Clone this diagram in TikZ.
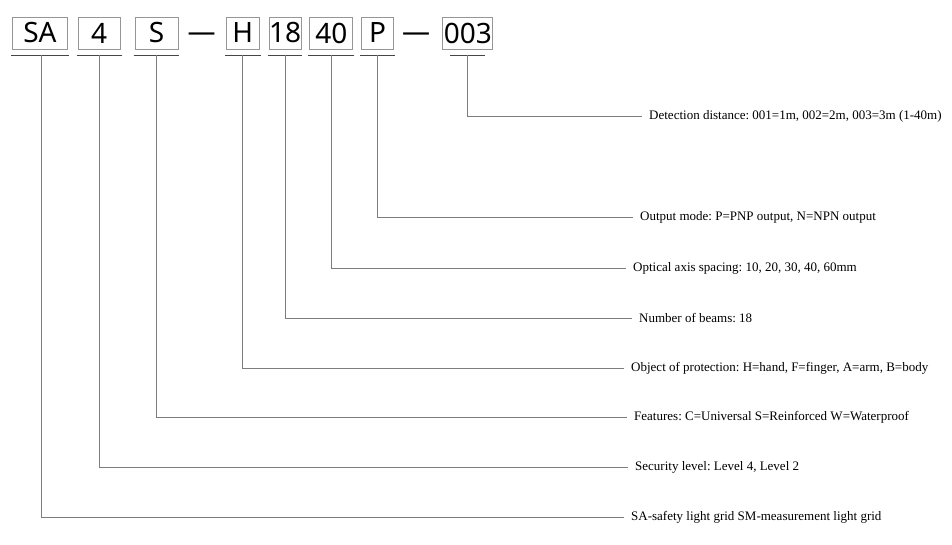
\documentclass[tikz,border=0pt]{standalone}
\usepackage{fontspec}
\setmainfont{Liberation Serif}
\newfontfamily\codefont{Noto Sans}
\usepackage{tikz}
\usetikzlibrary{positioning}
\usepackage{xcolor}
\definecolor{boxgray}{RGB}{150,150,150}
\definecolor{linegray}{RGB}{125,125,125}
\definecolor{ulgray}{RGB}{70,70,70}
\newcommand{\codeline}[2]{%
  \draw[uline] ([xshift=#2, yshift=-6pt]#1.south west) -- ([xshift=-#2, yshift=-6pt]#1.south east);}

\begin{document}
\frenchspacing
\begin{tikzpicture}[
      x=1pt, y=-1pt,
      node distance=8pt,
      codebox/.style={rectangle, draw=boxgray, line width=0.8pt,
                      minimum height=32pt, inner sep=0pt,
                      font=\codefont\fontsize{28}{30}\selectfont},
      sep/.style={inner sep=0pt, yshift=-4pt,
                  font=\codefont\fontsize{28}{30}\selectfont},
      desc/.style={anchor=west, inner xsep=7pt, inner ysep=2pt,
                   font=\fontsize{13}{15}\selectfont},
      uline/.style={ulgray, line width=0.9pt},
      conn/.style={linegray, line width=0.9pt},
    ]
    \useasboundingbox (0,0) rectangle (952,545);

    % Code boxes
    \node[codebox, minimum width=55pt, anchor=west] (sa) at (12,33) {SA};
    \node[codebox, minimum width=42pt, right=10pt of sa]   (lvl)  {4};
    \node[codebox, minimum width=43pt, right=14pt of lvl]  (feat) {S};
    \node[sep, right=9pt of feat]                          (dasha) {—};
    \node[codebox, minimum width=33pt, right=10pt of dasha.east |- feat.east] (obj) {H};
    \node[codebox, minimum width=32pt, right=9pt of obj]   (beam) {18};
    \node[codebox, minimum width=43pt, right=of beam]      (axis) {40};
    \node[codebox, minimum width=32pt, right=of axis]      (outp) {P};
    \node[sep, right=8pt of outp]                          (dashb) {—};
    \node[codebox, minimum width=50pt, right=12pt of dashb.east |- outp.east] (dist) {003};

    % Underlines
    \codeline{sa}{-1pt}
    \codeline{lvl}{-1pt}
    \codeline{feat}{-1pt}
    \codeline{obj}{-1pt}
    \codeline{beam}{-1pt}
    \codeline{axis}{-1pt}
    \codeline{outp}{-1pt}
    \codeline{dist}{8pt}

    % Descriptions
    \node[desc] (ddist) at (642,116) {Detection distance: 001=1m, 002=2m, 003=3m (1-40m)};
    \node[desc] (doutp) at (633,217) {Output mode: P=PNP output, N=NPN output};
    \node[desc] (daxis) at (626,268) {Optical axis spacing: 10, 20, 30, 40, 60mm};
    \node[desc] (dbeam) at (632,318) {Number of beams: 18};
    \node[desc] (dobj)  at (624,368) {Object of protection: H=hand, F=finger, A=arm, B=body};
    \node[desc] (dfeat) at (627,417) {Features: C=Universal S=Reinforced W=Waterproof};
    \node[desc] (dlvl)  at (628,467) {Security level: Level 4, Level 2};
    \node[desc] (dsa)   at (624,517) {SA-safety light grid SM-measurement light grid};

    % Connectors
    \draw[conn] ([xshift=2pt, yshift=-6pt]sa.south) |- (dsa.west);
    \draw[conn] ([yshift=-6pt]lvl.south)  |- (dlvl.west);
    \draw[conn] ([yshift=-6pt]feat.south) |- (dfeat.west);
    \draw[conn] ([yshift=-6pt]obj.south)  |- (dobj.west);
    \draw[conn] ([yshift=-6pt]beam.south) |- (dbeam.west);
    \draw[conn] ([yshift=-6pt]axis.south) |- (daxis.west);
    \draw[conn] ([yshift=-6pt]outp.south) |- (doutp.west);
    \draw[conn] ([yshift=-6pt]dist.south) |- (ddist.west);
  \end{tikzpicture}
\end{document}
